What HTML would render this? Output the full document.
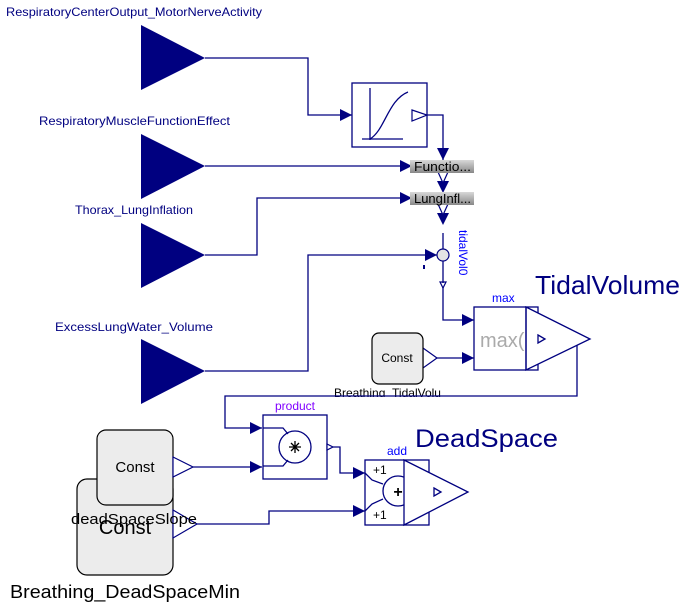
<!DOCTYPE html><html><head><style>body{margin:0;background:#fff}svg{display:block}text{font-family:"Liberation Sans",Arial,sans-serif}</style></head><body>
<svg width="687" height="609" viewBox="0 0 687 609" xmlns="http://www.w3.org/2000/svg">
<g fill="#000080" font-size="12">
<text x="6" y="16" textLength="256" lengthAdjust="spacingAndGlyphs">RespiratoryCenterOutput_MotorNerveActivity</text>
<text x="39" y="125" textLength="191" lengthAdjust="spacingAndGlyphs">RespiratoryMuscleFunctionEffect</text>
<text x="75" y="214" textLength="118" lengthAdjust="spacingAndGlyphs">Thorax_LungInflation</text>
<text x="55" y="331" textLength="158" lengthAdjust="spacingAndGlyphs">ExcessLungWater_Volume</text>
<polygon points="141,25 205,58 141,90"/>
<polygon points="141,134 205,166 141,199"/>
<polygon points="141,223 205,255 141,288"/>
<polygon points="141,339 205,371 141,404"/>
</g>
<text x="334" y="397" font-size="12">Breathing_TidalVolu</text>
<rect x="330" y="397" width="110" height="8" fill="#fff"/>
<g fill="none" stroke="#000080" stroke-width="1.3">
<polyline points="205,58 308,58 308,115 352,115"/>
<polyline points="205,166 412,166"/>
<polyline points="205,255 257,255 257,198 412,198"/>
<polyline points="205,371 308,371 308,255 437,255"/>
<polyline points="427,115 443,115 443,160"/>
<polyline points="443,283 443,320 474,320"/>
<polyline points="437,358 474,358"/>
<polyline points="577,345 577,396 225,396 225,428 262,428"/>
<polyline points="193,467 262,467"/>
<polyline points="197,524 269,524 269,511 365,511"/>
<polyline points="333,447 340,447 340,473 365,473"/>
<rect x="352" y="83" width="75" height="64"/>
<line x1="370" y1="88" x2="370" y2="140"/><line x1="362" y1="139" x2="403" y2="139"/>
<path d="M370,139 C385,130 388,100 408,92"/>
<rect x="474" y="307" width="64" height="63"/>
<polygon points="526,307 590,339 526,370" fill="#fff"/>
<polygon points="538,335 545,339 538,343"/>
<line x1="526" y1="307" x2="526" y2="370"/>
<rect x="263" y="415" width="64" height="64"/>
<circle cx="295" cy="447" r="16"/>
<polyline points="263,428 283,428 288,434"/><polyline points="263,466 283,466 288,460"/>
<path d="M289,447h12M295,441v12M291,443l8,8M299,443l-8,8" stroke="#000"/>
<rect x="365" y="460" width="64" height="65"/>
<circle cx="398" cy="491" r="15"/>
<polygon points="404,460 468,492 404,525" fill="#fff"/>
<polygon points="434,488 441,492 434,496"/>
<polyline points="365,473 372,480 383,484"/><polyline points="365,511 372,504 383,499"/>
</g>
<g fill="#000080">
<polygon points="352,115 340,109 340,121"/>
<polygon points="412,166 400,160 400,172"/>
<polygon points="412,198 400,192 400,204"/>
<polygon points="437,255 425,249 425,261"/>
<polygon points="443,193 437,181 449,181"/>
<polygon points="443,225 437,213 449,213"/>
<polygon points="443,160 437,148 449,148"/>
<polygon points="474,320 462,314 462,326"/>
<polygon points="474,358 462,352 462,364"/>
<polygon points="262,428 250,422 250,434"/>
<polygon points="262,467 250,461 250,473"/>
<polygon points="365,473 353,467 353,479"/>
<polygon points="365,511 353,505 353,517"/>
<rect x="423" y="265" width="2" height="4"/>
</g>
<g fill="#fff" stroke="#000080" stroke-width="1.2">
<polygon points="412,110 427,115 412,121"/>
<polygon points="438,172 448,172 443,183"/>
<polygon points="438,204 448,204 443,215"/>
<polygon points="440,282 446,282 443,288"/>
<polygon points="327,444 333,447 327,450"/>
<polygon points="423,348 437,358 423,368"/>
</g>
<defs><linearGradient id="g" x1="0" y1="0" x2="0" y2="1"><stop offset="0" stop-color="#d8d8d8"/><stop offset="1" stop-color="#888"/></linearGradient></defs>
<rect x="410" y="160" width="64" height="13" fill="url(#g)"/>
<rect x="410" y="192" width="64" height="13" fill="url(#g)"/>
<text x="414" y="171" font-size="13" fill="#000" textLength="57" lengthAdjust="spacingAndGlyphs">Functio...</text>
<text x="414" y="203" font-size="13" fill="#000" textLength="57" lengthAdjust="spacingAndGlyphs">LungInfl...</text>
<circle cx="443" cy="255" r="6" fill="#e4e4e4" stroke="#000080" stroke-width="1.2"/>
<line x1="443" y1="233" x2="443" y2="249" stroke="#000080" stroke-width="1.3"/>
<line x1="443" y1="261" x2="443" y2="283" stroke="#000080" stroke-width="1.3"/>
<text x="0" y="0" font-size="12" fill="#0000ff" transform="translate(459,230) rotate(90)">tidalVol0</text>
<text x="492" y="302" font-size="12" fill="#0000ff">max</text>
<text x="480" y="347" font-size="20" fill="#aaa">max(</text>
<text x="535" y="294" font-size="26" fill="#000080" textLength="145" lengthAdjust="spacingAndGlyphs">TidalVolume</text>
<rect x="372" y="333" width="51" height="51" rx="7" fill="#ececec" stroke="#000" stroke-width="1.2"/>
<text x="397" y="362" font-size="12" text-anchor="middle">Const</text>
<text x="295" y="410" font-size="12" fill="#8000ff" text-anchor="middle">product</text>
<text x="397" y="455" font-size="12" fill="#0000ff" text-anchor="middle">add</text>
<text x="415" y="447" font-size="25" fill="#000080" textLength="143" lengthAdjust="spacingAndGlyphs">DeadSpace</text>
<text x="373" y="474" font-size="12">+1</text>
<text x="373" y="519" font-size="12">+1</text>
<text x="398" y="497" font-size="16" text-anchor="middle" font-weight="bold">+</text>
<rect x="77" y="479" width="96" height="96" rx="10" fill="#ececec" stroke="#000" stroke-width="1.2"/>
<polygon points="173,510 197,524 173,538" fill="#fff" stroke="#000080" stroke-width="1.2"/>
<text x="125" y="534" font-size="20" text-anchor="middle">Const</text>
<rect x="97" y="430" width="76" height="75" rx="9" fill="#ececec" stroke="#000" stroke-width="1.2"/>
<polygon points="173,457 193,467 173,477" fill="#fff" stroke="#000080" stroke-width="1.2"/>
<text x="135" y="472" font-size="15" text-anchor="middle">Const</text>
<text x="71" y="524" font-size="15" textLength="126" lengthAdjust="spacingAndGlyphs">deadSpaceSlope</text>
<text x="10" y="598" font-size="18" textLength="230" lengthAdjust="spacingAndGlyphs">Breathing_DeadSpaceMin</text>
</svg></body></html>
